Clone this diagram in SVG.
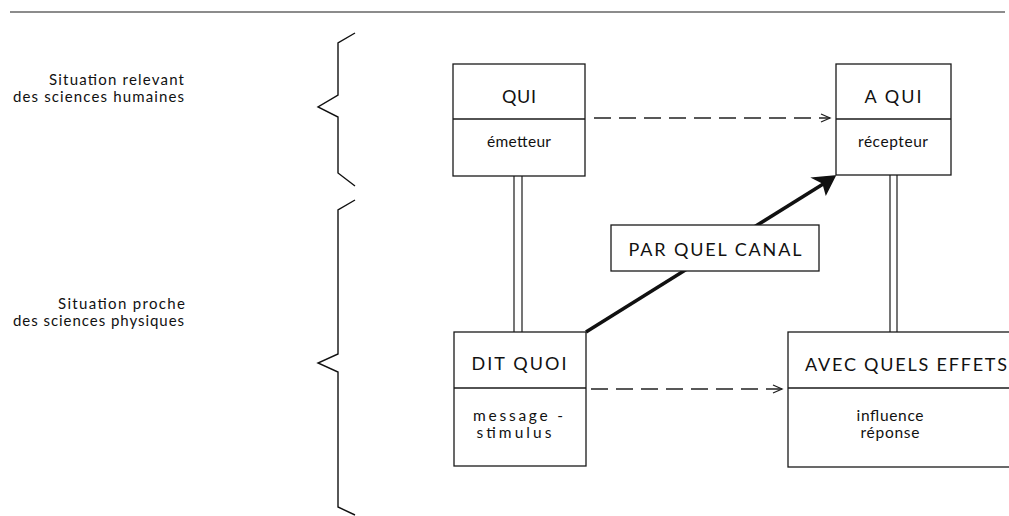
<svg xmlns="http://www.w3.org/2000/svg" width="1009" height="516" viewBox="0 0 1009 516">
<style>
.box{fill:#fff;stroke:#1a1a1a;stroke-width:1.3}
.div{stroke:#1a1a1a;stroke-width:1.3}
.cap{font-family:Lato,"Liberation Sans",sans-serif;font-size:18px;fill:#111;text-anchor:middle}
.low{font-family:Lato,"Liberation Sans",sans-serif;font-size:15.5px;fill:#111;text-anchor:middle}
.side{font-family:Lato,"Liberation Sans",sans-serif;font-size:15px;fill:#111;text-anchor:end}
.dash{fill:none;stroke:#222;stroke-width:1.3;stroke-dasharray:17 8}
.dbl{stroke:#1a1a1a;stroke-width:1.2}
.brace{fill:none;stroke:#111;stroke-width:1.4;stroke-linejoin:miter}
</style>
<defs>
<marker id="open" markerWidth="12" markerHeight="10" refX="10" refY="5" orient="auto" markerUnits="userSpaceOnUse">
<path d="M1,1 L10,5 L1,9" fill="none" stroke="#222" stroke-width="1.3"/>
</marker>
</defs>
<line x1="10" y1="12" x2="1005" y2="12" stroke="#666" stroke-width="1.5"/>
<g id="labels">
<text class="side" x="184" y="85" textLength="135">Situation relevant</text>
<text class="side" x="184" y="102" textLength="171">des sciences humaines</text>
<text class="side" x="185" y="309" textLength="127">Situation proche</text>
<text class="side" x="184" y="326" textLength="171">des sciences physiques</text>
</g>
<g id="braces">
<path class="brace" d="M355,33 L338,43 L338,95 L318,107 L338,117 L338,173 L355,186"/>
<path class="brace" d="M355,200 L338,210 L338,354 L318,363 L338,372 L338,507 L355,515"/>
</g>
<g id="connectors">
<line class="dbl" x1="514" y1="176" x2="514" y2="332"/>
<line class="dbl" x1="522" y1="176" x2="522" y2="332"/>
<line class="dbl" x1="890" y1="175" x2="890" y2="332"/>
<line class="dbl" x1="897" y1="175" x2="897" y2="332"/>
<line class="dash" x1="594" y1="118" x2="830" y2="118" marker-end="url(#open)"/>
<line class="dash" x1="591" y1="389" x2="782" y2="389" marker-end="url(#open)"/>
<line x1="586" y1="332" x2="828" y2="181" stroke="#111" stroke-width="3.5"/>
<path d="M835,176 L813,178 L823,183 L826,194 Z" fill="#111" stroke="#111" stroke-width="1.5" stroke-linejoin="miter"/>
</g>
<g id="qui">
<rect class="box" x="453" y="64" width="132" height="112"/>
<line class="div" x1="453" y1="119" x2="585" y2="119"/>
<text class="cap" x="519" y="103" textLength="34">QUI</text>
<text class="low" x="519" y="147" textLength="64">émetteur</text>
</g>
<g id="a-qui">
<rect class="box" x="836" y="64" width="115" height="111"/>
<line class="div" x1="836" y1="119" x2="951" y2="119"/>
<text class="cap" x="893" y="103" textLength="57">A QUI</text>
<text class="low" x="893" y="147" textLength="70">récepteur</text>
</g>
<g id="par-quel-canal">
<rect class="box" x="611" y="225" width="208" height="46"/>
<text class="cap" x="715" y="256" textLength="173">PAR QUEL CANAL</text>
</g>
<g id="dit-quoi">
<rect class="box" x="454" y="332" width="132" height="134"/>
<line class="div" x1="454" y1="388" x2="586" y2="388"/>
<text class="cap" x="519" y="370" textLength="95">DIT QUOI</text>
<text class="low" x="518" y="421" textLength="90">message -</text>
<text class="low" x="514" y="438" textLength="75">stimulus</text>
</g>
<g id="avec-quels-effets">
<rect class="box" x="788" y="332" width="240" height="135"/>
<line class="div" x1="788" y1="388" x2="1028" y2="388"/>
<text class="cap" x="906" y="371" textLength="202">AVEC QUELS EFFETS</text>
<text class="low" x="890" y="421" textLength="67">influence</text>
<text class="low" x="890" y="438" textLength="59">réponse</text>
</g>
</svg>
